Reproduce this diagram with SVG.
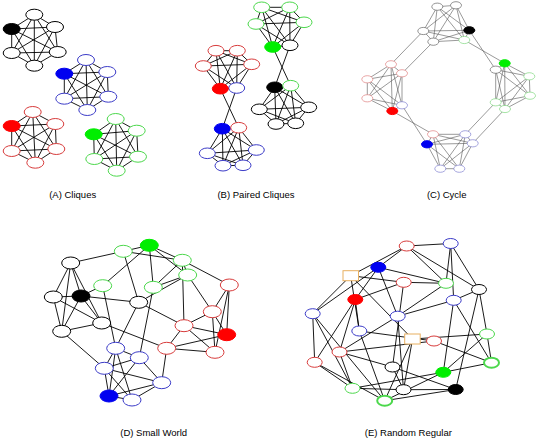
<svg xmlns="http://www.w3.org/2000/svg" width="537" height="442" viewBox="0 0 537 442">
<style>
.bg{fill:#fff}
.e{fill:none;stroke:#000;stroke-width:0.9}
.ec{fill:none;stroke:#555;stroke-width:0.6}
.n{fill:#fff;stroke-width:1}
.k{stroke:#000}.b{stroke:#3c3cc8}.r{stroke:#d83c3c}.g{stroke:#4cd84c}
.kf{fill:#000;stroke:#000}.bf{fill:#0000f0;stroke:#0000f0}.rf{fill:#f00;stroke:#f00}.gf{fill:#0e0;stroke:#0e0}
.c{fill:#fff;stroke-width:0.7}
.ck{stroke:#666}.cb{stroke:#8080d0}.cr{stroke:#e08080}.cg{stroke:#80d880}
.t{stroke:#e8b060;fill:#fff;stroke-width:1}
.thick{stroke-width:2}
.lbl{font-family:"Liberation Sans",Arial,sans-serif;font-size:9.5px;fill:#000;text-anchor:middle}
</style>
<rect class="bg" x="0" y="0" width="537" height="442"/>

<g id="connectors">
<!-- A -->
<path class="e" d="M34.3,14.7 L55,27 L57.7,52 L34.3,65.7 L11.7,53 L11.7,29 Z M34.3,14.7 L57.7,52 L11.7,53 Z M55,27 L34.3,65.7 L11.7,29 Z M34.3,14.7 L34.3,65.7 M55,27 L11.7,53 M57.7,52 L11.7,29"/>
<path class="e" d="M86,60 L107.3,72 L108.3,96.7 L87.3,110 L64.3,98.7 L64.3,73.7 Z M86,60 L108.3,96.7 L64.3,98.7 Z M107.3,72 L87.3,110 L64.3,73.7 Z M86,60 L87.3,110 M107.3,72 L64.3,98.7 M108.3,96.7 L64.3,73.7"/>
<path class="e" d="M32.7,112 L55.3,124 L56.3,149 L35.3,162.7 L11.7,151 L11.7,126 Z M32.7,112 L56.3,149 L11.7,151 Z M55.3,124 L35.3,162.7 L11.7,126 Z M32.7,112 L35.3,162.7 M55.3,124 L11.7,151 M56.3,149 L11.7,126"/>
<path class="e" d="M115.7,119 L136.7,130.7 L138,156.7 L116.7,170.7 L94.3,159 L93.7,134.3 Z M115.7,119 L138,156.7 L94.3,159 Z M136.7,130.7 L116.7,170.7 L93.7,134.3 Z M115.7,119 L116.7,170.7 M136.7,130.7 L94.3,159 M138,156.7 L93.7,134.3"/>
<!-- B -->
<path class="e" d="M261.7,7.3 L289.7,7.3 L304,22.3 L290,45.3 L272.7,47 L256,24 Z M261.7,7.3 L304,22.3 L272.7,47 Z M289.7,7.3 L290,45.3 L256,24 Z M261.7,7.3 L290,45.3 M289.7,7.3 L272.7,47 M304,22.3 L256,24"/>
<path class="e" d="M274.7,87.3 L290.7,85.7 L308.7,107.3 L295.7,123.3 L276,124 L259.3,109.3 Z M274.7,87.3 L308.7,107.3 L276,124 Z M290.7,85.7 L295.7,123.3 L259.3,109.3 Z M274.7,87.3 L295.7,123.3 M290.7,85.7 L276,124 M308.7,107.3 L259.3,109.3"/>
<path class="e" d="M216,50.7 L237.3,50.7 L251.7,64.3 L236.7,88 L220.3,88.7 L203.3,66 Z M216,50.7 L251.7,64.3 L220.3,88.7 Z M237.3,50.7 L236.7,88 L203.3,66 Z M216,50.7 L236.7,88 M237.3,50.7 L220.3,88.7 M251.7,64.3 L203.3,66"/>
<path class="e" d="M222.3,128.7 L238.7,127.7 L256.3,150 L243,165.3 L223,165.7 L207.3,153.3 Z M222.3,128.7 L256.3,150 L223,165.7 Z M238.7,127.7 L243,165.3 L207.3,153.3 Z M222.3,128.7 L243,165.3 M238.7,127.7 L223,165.7 M256.3,150 L207.3,153.3"/>
<path class="e" d="M220.3,88.7 L238.7,127.7 M236.7,88 L222.3,128.7 M272.7,47 L290.7,85.7 M290,45.3 L274.7,87.3"/>
<!-- C -->
<path class="ec" d="M437.3,6.7 L456,5.3 L469.3,30.3 L464.3,40 L433.3,41.7 L423.3,31 Z M437.3,6.7 L469.3,30.3 L433.3,41.7 Z M456,5.3 L464.3,40 L423.3,31 Z M437.3,6.7 L464.3,40 M456,5.3 L433.3,41.7 M469.3,30.3 L423.3,31"/>
<path class="ec" d="M504.7,63.3 L529.3,76.3 L530,95.7 L505,109 L495.7,102.3 L495.7,69.7 Z M504.7,63.3 L530,95.7 L495.7,102.3 Z M529.3,76.3 L505,109 L495.7,69.7 Z M504.7,63.3 L505,109 M529.3,76.3 L495.7,102.3 M530,95.7 L495.7,69.7"/>
<path class="ec" d="M433,134.3 L465.3,134.3 L472.7,143.3 L459.3,168.7 L440.3,168.7 L427,144.3 Z M433,134.3 L472.7,143.3 L440.3,168.7 Z M465.3,134.3 L459.3,168.7 L427,144.3 Z M433,134.3 L459.3,168.7 M465.3,134.3 L440.3,168.7 M472.7,143.3 L427,144.3"/>
<path class="ec" d="M391,64.3 L402,73.3 L402,105.3 L392.3,111 L367.3,98.3 L367.3,79.3 Z M391,64.3 L402,105.3 L367.3,98.3 Z M402,73.3 L392.3,111 L367.3,79.3 Z M391,64.3 L392.3,111 M402,73.3 L367.3,98.3 M402,105.3 L367.3,79.3"/>
<path class="ec" d="M423.3,31 L391,64.3 M433.3,41.7 L402,73.3 M469.3,30.3 L495.7,69.7 M464.3,40 L504.7,63.3 M392.3,111 L433,134.3 M402,105.3 L427,144.3 M465.3,134.3 L495.7,102.3 M472.7,143.3 L505,109"/>
<!-- D -->
<path class="e" d="M70.7,263 L123.3,251.3 M123.3,251.3 L149.3,245.3 M70.7,263 L53.3,297 M70.7,263 L81,296 M70.7,263 L61.7,331.3 M70.7,263 L101.7,323 M53.3,297 L81,296 M53.3,297 L61.7,331.3 M53.3,297 L101.7,323 M81,296 L102.7,285.7 M81,296 L138.7,302.3 M81,296 L61.7,331.3 M81,296 L101.7,323 M101.7,323 L61.7,331.3 M123.3,251.3 L138.7,302.3 M149.3,245.3 L102.7,285.7 M149.3,245.3 L153.3,287.3 M149.3,245.3 L182.3,260.3 M149.3,245.3 L187.7,275 M123.3,251.3 L182.3,260.3 M182.3,260.3 L187.7,275 M182.3,260.3 L153.3,287.3 M182.3,260.3 L229.3,285 M187.7,275 L153.3,287.3 M187.7,275 L138.7,302.3 M187.7,275 L212.3,311.7 M182.3,260.3 L184,325.7 M102.7,285.7 L115.7,348.3 M138.7,302.3 L184,325.7 M138.7,302.3 L115.7,348.3 M153.3,287.3 L139.3,357.7 M229.3,285 L212.3,311.7 M229.3,285 L226.7,334.7 M229.3,285 L215,352.3 M212.3,311.7 L184,325.7 M212.3,311.7 L226.7,334.7 M212.3,311.7 L215,352.3 M184,325.7 L226.7,334.7 M184,325.7 L215,352.3 M184,325.7 L166.7,348.3 M101.7,323 L166.7,348.3 M61.7,331.3 L104.3,368.3 M166.7,348.3 L226.7,334.7 M166.7,348.3 L215,352.3 M166.7,348.3 L161.7,382.7 M115.7,348.3 L139.3,357.7 M115.7,348.3 L104.3,368.3 M115.7,348.3 L109,396 M115.7,348.3 L132,400 M139.3,357.7 L104.3,368.3 M139.3,357.7 L109,396 M139.3,357.7 L161.7,382.7 M104.3,368.3 L109,396 M104.3,368.3 L132,400 M104.3,368.3 L161.7,382.7 M109,396 L132,400 M132,400 L161.7,382.7 M109,396 L161.7,382.7"/>
<!-- E -->
<path class="e" d="M406.7,246 L450.7,243.5 M406.7,246 L378.3,267.3 M406.7,246 L350.7,275.7 M406.7,246 L446,283.3 M406.7,246 L479,289.5 M450.7,243.5 L479,289.5 M450.7,243.5 L453.7,300.3 M450.7,243.5 L446,283.3 M378.3,267.3 L446,283.3 M378.3,267.3 L355.3,299.5 M378.3,267.3 L397.7,316.2 M378.3,267.3 L312.7,313.7 M350.7,275.7 L403.7,282.3 M350.7,275.7 L312.7,313.7 M350.7,275.7 L412.5,339 M350.7,275.7 L359.3,331 M403.7,282.3 L446,283.3 M403.7,282.3 L355.3,299.5 M403.7,282.3 L392.5,367 M446,283.3 L397.7,316.2 M479,289.5 L487,334 M479,289.5 L455.7,389.5 M479,289.5 L453.7,300.3 M453.7,300.3 L397.7,316.2 M453.7,300.3 L443.3,372.3 M453.7,300.3 L491.5,362.7 M355.3,299.5 L359.3,331 M355.3,299.5 L314.7,362.3 M355.3,299.5 L339.5,352 M312.7,313.7 L314.7,362.3 M312.7,313.7 L384.7,400.7 M312.7,313.7 L352.5,388.3 M397.7,316.2 L339.5,352 M397.7,316.2 L403.5,389.7 M359.3,331 L434,341 M359.3,331 L384.7,400.7 M412.5,339 L487,334 M412.5,339 L403.5,389.7 M412.5,339 L384.7,400.7 M434,341 L491.5,362.7 M434,341 L339.5,352 M339.5,352 L392.5,367 M339.5,352 L352.5,388.3 M314.7,362.3 L384.7,400.7 M314.7,362.3 L352.5,388.3 M491.5,362.7 L443.3,372.3 M487,334 L491.5,362.7 M487,334 L443.3,372.3 M392.5,367 L455.7,389.5 M392.5,367 L403.5,389.7 M443.3,372.3 L384.7,400.7 M443.3,372.3 L352.5,388.3 M352.5,388.3 L403.5,389.7 M403.5,389.7 L455.7,389.5 M455.7,389.5 L384.7,400.7"/>
</g>

<!-- Panel A nodes -->
<g id="A-black">
<ellipse class="n k" cx="34.3" cy="14.7" rx="8.5" ry="5.5"/><ellipse class="n k" cx="55" cy="27" rx="8.5" ry="5.5"/><ellipse class="n k" cx="57.7" cy="52" rx="8.5" ry="5.5"/><ellipse class="n k" cx="34.3" cy="65.7" rx="8.5" ry="5.5"/><ellipse class="n k" cx="11.7" cy="53" rx="8.5" ry="5.5"/><ellipse class="kf" cx="11.7" cy="29" rx="8.5" ry="5.5"/>
</g>
<g id="A-blue">
<ellipse class="n b" cx="86" cy="60" rx="8.5" ry="5.5"/><ellipse class="n b" cx="107.3" cy="72" rx="8.5" ry="5.5"/><ellipse class="n b" cx="108.3" cy="96.7" rx="8.5" ry="5.5"/><ellipse class="n b" cx="87.3" cy="110" rx="8.5" ry="5.5"/><ellipse class="n b" cx="64.3" cy="98.7" rx="8.5" ry="5.5"/><ellipse class="bf" cx="64.3" cy="73.7" rx="8.5" ry="5.5"/>
</g>
<g id="A-red">
<ellipse class="n r" cx="32.7" cy="112" rx="8.5" ry="5.5"/><ellipse class="n r" cx="55.3" cy="124" rx="8.5" ry="5.5"/><ellipse class="n r" cx="56.3" cy="149" rx="8.5" ry="5.5"/><ellipse class="n r" cx="35.3" cy="162.7" rx="8.5" ry="5.5"/><ellipse class="n r" cx="11.7" cy="151" rx="8.5" ry="5.5"/><ellipse class="rf" cx="11.7" cy="126" rx="8.5" ry="5.5"/>
</g>
<g id="A-green">
<ellipse class="n g" cx="115.7" cy="119" rx="8.5" ry="5.5"/><ellipse class="n g" cx="136.7" cy="130.7" rx="8.5" ry="5.5"/><ellipse class="n g" cx="138" cy="156.7" rx="8.5" ry="5.5"/><ellipse class="n g" cx="116.7" cy="170.7" rx="8.5" ry="5.5"/><ellipse class="n g" cx="94.3" cy="159" rx="8.5" ry="5.5"/><ellipse class="gf" cx="93.7" cy="134.3" rx="8.5" ry="5.5"/>
</g>

<!-- Panel B nodes -->
<g id="B-green">
<ellipse class="n g" cx="261.7" cy="7.3" rx="8" ry="5.3"/><ellipse class="n g" cx="289.7" cy="7.3" rx="8" ry="5.3"/><ellipse class="n g" cx="304" cy="22.3" rx="8" ry="5.3"/><ellipse class="n k" cx="290" cy="45.3" rx="8" ry="5.3"/><ellipse class="gf" cx="272.7" cy="47" rx="8" ry="5.3"/><ellipse class="n g" cx="256" cy="24" rx="8" ry="5.3"/>
</g>
<g id="B-black">
<ellipse class="kf" cx="274.7" cy="87.3" rx="8" ry="5.3"/><ellipse class="n g" cx="290.7" cy="85.7" rx="8" ry="5.3"/><ellipse class="n k" cx="308.7" cy="107.3" rx="8" ry="5.3"/><ellipse class="n k" cx="295.7" cy="123.3" rx="8" ry="5.3"/><ellipse class="n k" cx="276" cy="124" rx="8" ry="5.3"/><ellipse class="n k" cx="259.3" cy="109.3" rx="8" ry="5.3"/>
</g>
<g id="B-red">
<ellipse class="n r" cx="216" cy="50.7" rx="8" ry="5.3"/><ellipse class="n r" cx="237.3" cy="50.7" rx="8" ry="5.3"/><ellipse class="n r" cx="251.7" cy="64.3" rx="8" ry="5.3"/><ellipse class="n b" cx="236.7" cy="88" rx="8" ry="5.3"/><ellipse class="rf" cx="220.3" cy="88.7" rx="8" ry="5.3"/><ellipse class="n r" cx="203.3" cy="66" rx="8" ry="5.3"/>
</g>
<g id="B-blue">
<ellipse class="bf" cx="222.3" cy="128.7" rx="8" ry="5.3"/><ellipse class="n r" cx="238.7" cy="127.7" rx="8" ry="5.3"/><ellipse class="n b" cx="256.3" cy="150" rx="8" ry="5.3"/><ellipse class="n b" cx="243" cy="165.3" rx="8" ry="5.3"/><ellipse class="n b" cx="223" cy="165.7" rx="8" ry="5.3"/><ellipse class="n b" cx="207.3" cy="153.3" rx="8" ry="5.3"/>
</g>

<!-- Panel C nodes -->
<g id="C-top">
<ellipse class="c ck" cx="437.3" cy="6.7" rx="5.5" ry="3.6"/><ellipse class="c ck" cx="456" cy="5.3" rx="5.5" ry="3.6"/><ellipse class="kf" cx="469.3" cy="30.3" rx="5.5" ry="3.6"/><ellipse class="c cg" cx="464.3" cy="40" rx="5.5" ry="3.6"/><ellipse class="c ck" cx="433.3" cy="41.7" rx="5.5" ry="3.6"/><ellipse class="c ck" cx="423.3" cy="31" rx="5.5" ry="3.6"/>
</g>
<g id="C-right">
<ellipse class="gf" cx="504.7" cy="63.3" rx="5.5" ry="3.6"/><ellipse class="c cg" cx="529.3" cy="76.3" rx="5.5" ry="3.6"/><ellipse class="c cg" cx="530" cy="95.7" rx="5.5" ry="3.6"/><ellipse class="c cg" cx="505" cy="109" rx="5.5" ry="3.6"/><ellipse class="c cg" cx="495.7" cy="102.3" rx="5.5" ry="3.6"/><ellipse class="c ck" cx="495.7" cy="69.7" rx="5.5" ry="3.6"/>
</g>
<g id="C-bottom">
<ellipse class="c cr" cx="433" cy="134.3" rx="5.5" ry="3.6"/><ellipse class="c cb" cx="465.3" cy="134.3" rx="5.5" ry="3.6"/><ellipse class="c cb" cx="472.7" cy="143.3" rx="5.5" ry="3.6"/><ellipse class="c cb" cx="459.3" cy="168.7" rx="5.5" ry="3.6"/><ellipse class="c cb" cx="440.3" cy="168.7" rx="5.5" ry="3.6"/><ellipse class="bf" cx="427" cy="144.3" rx="5.5" ry="3.6"/>
</g>
<g id="C-left">
<ellipse class="c cr" cx="391" cy="64.3" rx="5.5" ry="3.6"/><ellipse class="c cr" cx="402" cy="73.3" rx="5.5" ry="3.6"/><ellipse class="c cb" cx="402" cy="105.3" rx="5.5" ry="3.6"/><ellipse class="rf" cx="392.3" cy="111" rx="5.5" ry="3.6"/><ellipse class="c cr" cx="367.3" cy="98.3" rx="5.5" ry="3.6"/><ellipse class="c cr" cx="367.3" cy="79.3" rx="5.5" ry="3.6"/>
</g>

<!-- Panel D nodes -->
<g id="D-nodes">
<ellipse class="n g" cx="123.3" cy="251.3" rx="9" ry="6"/>
<ellipse class="gf" cx="149.3" cy="245.3" rx="9" ry="6"/>
<ellipse class="n g" cx="182.3" cy="260.3" rx="9" ry="6"/>
<ellipse class="n g" cx="187.7" cy="275" rx="9" ry="6"/>
<ellipse class="n k" cx="70.7" cy="263" rx="9" ry="6"/>
<ellipse class="n g" cx="102.7" cy="285.7" rx="9" ry="6"/>
<ellipse class="n g" cx="153.3" cy="287.3" rx="9" ry="6"/>
<ellipse class="n r" cx="229.3" cy="285" rx="9" ry="6"/>
<ellipse class="n k" cx="53.3" cy="297" rx="9" ry="6"/>
<ellipse class="kf" cx="81" cy="296" rx="9" ry="6"/>
<ellipse class="n k" cx="138.7" cy="302.3" rx="9" ry="6"/>
<ellipse class="n r" cx="212.3" cy="311.7" rx="9" ry="6"/>
<ellipse class="n k" cx="101.7" cy="323" rx="9" ry="6"/>
<ellipse class="n k" cx="61.7" cy="331.3" rx="9" ry="6"/>
<ellipse class="n r" cx="184" cy="325.7" rx="9" ry="6"/>
<ellipse class="rf" cx="226.7" cy="334.7" rx="9" ry="6"/>
<ellipse class="n r" cx="166.7" cy="348.3" rx="9" ry="6"/>
<ellipse class="n r" cx="215" cy="352.3" rx="9" ry="6"/>
<ellipse class="n b" cx="115.7" cy="348.3" rx="9" ry="6"/>
<ellipse class="n b" cx="139.3" cy="357.7" rx="9" ry="6"/>
<ellipse class="n b" cx="104.3" cy="368.3" rx="9" ry="6"/>
<ellipse class="n b" cx="161.7" cy="382.7" rx="9" ry="6"/>
<ellipse class="bf" cx="109" cy="396" rx="9" ry="6"/>
<ellipse class="n b" cx="132" cy="400" rx="9" ry="6"/>
</g>

<!-- Panel E nodes -->
<g id="E-nodes">
<ellipse class="n r" cx="406.7" cy="246" rx="7.5" ry="5"/>
<ellipse class="n b" cx="450.7" cy="243.5" rx="7.5" ry="5"/>
<ellipse class="bf" cx="378.3" cy="267.3" rx="7.5" ry="5"/>
<rect class="t" x="343" y="270.7" width="15.5" height="10"/>
<ellipse class="n r" cx="403.7" cy="282.3" rx="7.5" ry="5"/>
<ellipse class="n g" cx="446" cy="283.3" rx="7.5" ry="5"/>
<ellipse class="n k" cx="479" cy="289.5" rx="7.5" ry="5"/>
<ellipse class="n b" cx="453.7" cy="300.3" rx="7.5" ry="5"/>
<ellipse class="rf" cx="355.3" cy="299.5" rx="7.5" ry="5"/>
<ellipse class="n b" cx="312.7" cy="313.7" rx="7.5" ry="5"/>
<ellipse class="n b" cx="397.7" cy="316.2" rx="7.5" ry="5"/>
<ellipse class="n b" cx="359.3" cy="331" rx="7.5" ry="5"/>
<rect class="t" x="404.7" y="334" width="15.5" height="10"/>
<ellipse class="n r" cx="434" cy="341" rx="7.5" ry="5"/>
<ellipse class="n g" cx="487" cy="334" rx="7.5" ry="5"/>
<ellipse class="n r" cx="339.5" cy="352" rx="7.5" ry="5"/>
<ellipse class="n r" cx="314.7" cy="362.3" rx="7.5" ry="5"/>
<ellipse class="n g thick" cx="491.5" cy="362.7" rx="7.5" ry="5"/>
<ellipse class="n k" cx="392.5" cy="367" rx="7.5" ry="5"/>
<ellipse class="gf" cx="443.3" cy="372.3" rx="7.5" ry="5"/>
<ellipse class="n g" cx="352.5" cy="388.3" rx="7.5" ry="5"/>
<ellipse class="n k" cx="403.5" cy="389.7" rx="7.5" ry="5"/>
<ellipse class="kf" cx="455.7" cy="389.5" rx="7.5" ry="5"/>
<ellipse class="n g thick" cx="384.7" cy="400.7" rx="7.5" ry="5"/>
</g>

<g id="labels">
<text class="lbl" x="72.7" y="197.5">(A) Cliques</text>
<text class="lbl" x="256" y="197.5">(B) Paired Cliques</text>
<text class="lbl" x="446.7" y="197.5">(C) Cycle</text>
<text class="lbl" x="153.7" y="435.5">(D) Small World</text>
<text class="lbl" x="408.3" y="435.5">(E) Random Regular</text>
</g>
</svg>
